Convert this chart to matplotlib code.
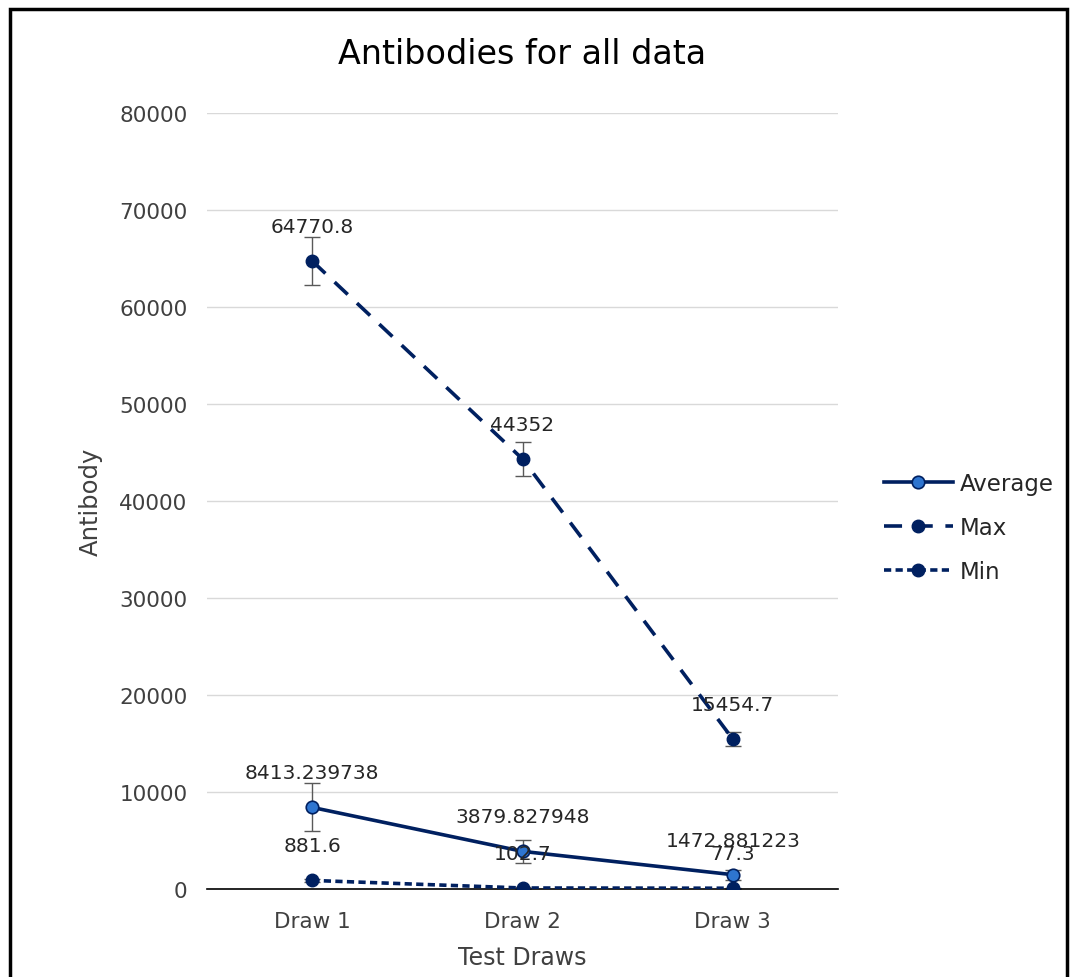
import numpy as np
import matplotlib.pyplot as plt
from matplotlib.patches import Rectangle

draws = ['Draw 1', 'Draw 2', 'Draw 3']
average = [8413.239738, 3879.827948, 1472.881223]
maximum = [64770.8, 44352, 15454.7]
minimum = [881.6, 102.7, 77.3]
avg_err = [2480, 1200, 500]
max_err = [2500, 1750, 700]
min_err = [150, 60, 50]

navy = '#002060'
light = '#2E75D0'

plt.rcParams['font.family'] = ['DejaVu Sans']

fig = plt.figure(figsize=(10.73, 9.78), dpi=100)
ax = fig.add_axes([0.193, 0.09, 0.588, 0.793])

x = np.arange(len(draws)) + 0.5

ax.errorbar(x, average, yerr=avg_err, fmt='none', ecolor='#595959', elinewidth=1, capsize=6, zorder=2)
ax.errorbar(x, maximum, yerr=max_err, fmt='none', ecolor='#595959', elinewidth=1, capsize=6, zorder=2)
ax.errorbar(x, minimum, yerr=min_err, fmt='none', ecolor='#595959', elinewidth=1, capsize=6, zorder=2)

ax.plot(x, average, '-', color=navy, lw=2.6, marker='o', ms=9, mfc=light, mec=navy, mew=1.2, label='Average', zorder=3)
ax.plot(x, maximum, color=navy, lw=2.6, dashes=(5, 3.5), marker='o', ms=9, mfc=navy, mec=navy, label='Max', zorder=3)
ax.plot(x, minimum, color=navy, lw=2.6, dashes=(2, 1.2), marker='o', ms=9, mfc=navy, mec=navy, label='Min', zorder=3)

# data labels with the full value as in the spreadsheet
for series in (average, maximum, minimum):
    for xi, v in zip(x, series):
        ax.annotate(str(v), (xi, v), xytext=(0, 18),
                    textcoords='offset points', ha='center', va='bottom', fontsize=14.5, color='#262626')

ax.set_xlim(0, 3)
ax.set_ylim(0, 80000)
ax.set_yticks(np.arange(0, 80001, 10000))
ax.set_xticks(x)
ax.set_xticklabels(draws)
ax.tick_params(axis='both', length=0, labelsize=15.5, colors='#404040')
ax.tick_params(axis='y', pad=14)
ax.tick_params(axis='x', pad=16)
ax.grid(axis='y', color='#d9d9d9', lw=1)
ax.set_axisbelow(True)
for s in ['left', 'right', 'top']:
    ax.spines[s].set_visible(False)
ax.spines['bottom'].set_color('#000000')
ax.spines['bottom'].set_linewidth(1.2)

ax.set_title('Antibodies for all data', fontsize=24, pad=36, color='#000000')
ax.set_xlabel('Test Draws', fontsize=17, color='#404040', labelpad=10)
ax.set_ylabel('Antibody', fontsize=17.5, color='#404040', labelpad=12)

ax.legend(loc='center left', bbox_to_anchor=(1.04, 0.466), frameon=False, fontsize=16.5,
          handlelength=3.0, labelspacing=0.9, handletextpad=0.3, labelcolor='#262626')

fig.patches.append(Rectangle((0.009, -0.01), 0.985, 1.0, transform=fig.transFigure,
                             fill=False, edgecolor='black', lw=2.5))

fig.savefig('out.png', dpi=100)
